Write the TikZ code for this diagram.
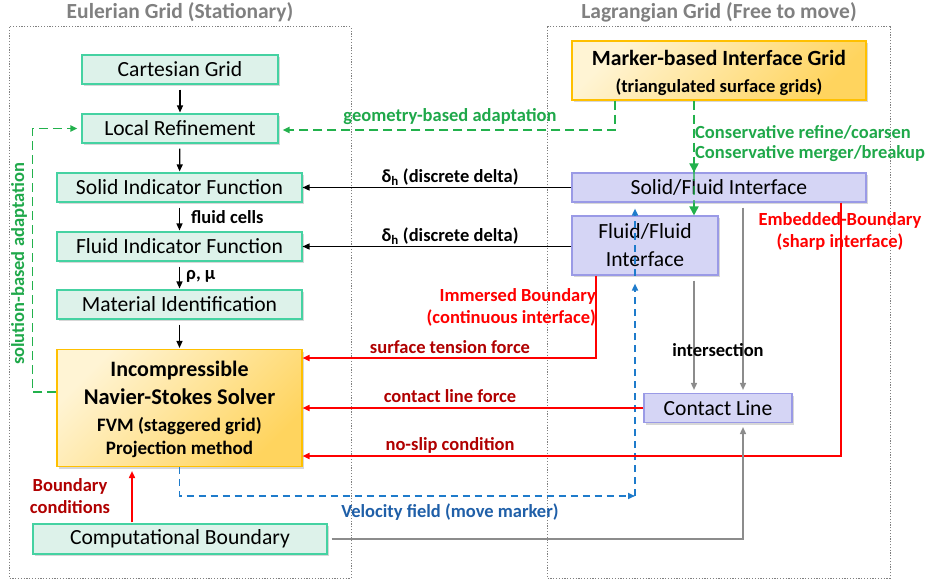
\documentclass[tikz,border=0pt]{standalone}
\usepackage{fontspec}
\setmainfont{Carlito}
\usetikzlibrary{arrows.meta,shadows,calc}
\definecolor{gfill}{HTML}{DDF2EA}
\definecolor{gborder}{HTML}{45D2A2}
\definecolor{ofillA}{HTML}{FFF4D4}
\definecolor{ofillB}{HTML}{FFD45E}
\definecolor{oborder}{HTML}{FFC000}
\definecolor{lfill}{HTML}{D5D5F5}
\definecolor{lborder}{HTML}{9A9AE6}
\definecolor{gline}{HTML}{22B14C}
\definecolor{gtext}{HTML}{1FA84A}
\definecolor{bline}{HTML}{1E7BCB}
\definecolor{btext}{HTML}{1F5FA8}
\definecolor{rline}{HTML}{FF0000}
\definecolor{rdark}{HTML}{B00000}
\definecolor{grayline}{HTML}{8C8C8C}
\definecolor{titlegray}{HTML}{808080}
\tikzset{
  shad/.style={drop shadow={shadow xshift=2pt,shadow yshift=-2pt,fill=black!35,opacity=.45}},
  gbox/.style={shad,draw=gborder,fill=gfill,line width=1.1pt,minimum height=29pt,inner sep=0pt,font=\fontsize{21.6}{24}\selectfont},
  lbox/.style={shad,draw=lborder,fill=lfill,line width=1.1pt,inner sep=0pt,font=\fontsize{21.6}{28}\selectfont,align=center},
  obox/.style={shad,draw=oborder,line width=1.1pt,inner sep=0pt,top color=ofillA,bottom color=ofillB,shading angle=45},
  btxt/.style={inner sep=0pt,font=\bfseries\fontsize{#1}{#1}\selectfont},
  tip/.style={-{Triangle[length=7pt,width=6pt]}},
  blk/.style={tip,black,line width=1.2pt},
  gdash/.style={gline,line width=1.8pt,dash pattern=on 9pt off 5pt},
  bdash/.style={bline,line width=1.6pt,dash pattern=on 7pt off 5pt},
  redarr/.style={tip,rline,line width=1.6pt},
  grayarr/.style={tip,grayline,line width=1.5pt},
  lbl/.style={font=\bfseries\fontsize{18.5}{22}\selectfont,inner sep=0pt},
  frame/.style={titlegray,line width=1pt,dash pattern=on 1.2pt off 1.6pt},
  title/.style={font=\bfseries\fontsize{21.5}{24}\selectfont,text=titlegray}
}
\begin{document}
\begin{tikzpicture}[x=1pt,y=-1pt]
\useasboundingbox (0,0) rectangle (927,583);
% frames
\draw[frame] (9,27) rectangle (351,578);
\draw[frame] (547,27) rectangle (890,578);
\node[title] (t1) at (180,12) {Eulerian Grid (Stationary)};
\node[title] (t2) at (719,12) {Lagrangian Grid (Free to move)};
% left column
\node[gbox,minimum width=196pt] (cart) at (180,69.5) {Cartesian Grid};
\node[gbox,minimum width=196pt] (loc) at (180,128.5) {Local Refinement};
\node[gbox,minimum width=245pt] (sif) at (179.5,187.5) {Solid Indicator Function};
\node[gbox,minimum width=245pt] (fif) at (179.5,246.5) {Fluid Indicator Function};
\node[gbox,minimum width=245pt] (mat) at (179.5,304.5) {Material Identification};
\node[obox,minimum width=245pt,minimum height=117pt] (ns) at (179.5,408) {};
\node[btxt=22] (ns1) at (ns.center |- 0,371) {Incompressible};
\node[btxt=22.5] (ns2) at (ns.center |- 0,397) {Navier-Stokes Solver};
\node[btxt=19] (ns3) at (ns.center |- 0,426) {FVM (staggered grid)};
\node[btxt=19] (ns4) at (ns.center |- 0,449) {Projection method};
\node[gbox,minimum width=294pt,minimum height=30pt] (cb) at (180,539) {Computational Boundary};
% right column
\node[obox,minimum width=294pt,minimum height=59pt] (mark) at (719,70.5) {};
\node[btxt=21.7] (m1) at (mark.center |- 0,58) {Marker-based Interface Grid};
\node[btxt=18.5] (m2) at (mark.center |- 0,87) {(triangulated surface grids)};
\node[lbox,minimum width=294pt,minimum height=29pt] (sf) at (719,187.5) {Solid/Fluid Interface};
\node[lbox,minimum width=146pt,minimum height=59pt] (ff) at (645,245.5) {Fluid/Fluid\\Interface};
\node[lbox,minimum width=148pt,minimum height=29pt] (cl) at (718,408) {Contact Line};
% left chain arrows
\draw[blk,shorten <=5pt,shorten >=1pt] (cart) -- (loc);
\draw[blk,shorten <=5pt,shorten >=1pt] (loc) -- (sif);
\draw[blk,shorten <=5pt,shorten >=1pt] (sif) -- (fif);
\draw[blk,shorten <=5pt,shorten >=1pt] (fif) -- (mat);
\draw[blk,shorten <=5pt,shorten >=1pt] (mat) -- (ns);
\node[lbl,anchor=west] (fc) at (191,217) {fluid cells};
\node[lbl,anchor=west] (rm) at (186,276) {ρ, μ};
% geometry-based adaptation
\draw[gdash,tip,shorten >=4pt] ([xshift=-104pt]mark.south) |- ([yshift=-1.5pt]loc.east);
\node[lbl,text=gtext] (geo) at (450,117) {geometry-based adaptation};
% solution-based adaptation
\draw[gdash,tip,shorten >=4pt] ([yshift=16pt]ns.west) -- ++(-24,0) |- (loc.west);
\node[lbl,text=gtext,rotate=90] (sol) at (19,264) {solution-based adaptation};
% conservative
\draw[gdash] ([xshift=-25pt]mark.south) -- ([xshift=-25pt]sf.north);
\draw[gline,line width=1.8pt,-{Triangle[length=9pt,width=9pt]}] ([xshift=-25pt,yshift=9pt]sf.north) -- ([xshift=-25pt]sf.north);
\draw[gdash,line width=1.2pt,opacity=.7] ([xshift=-25pt]sf.north) -- ([xshift=-25pt]sf.south);
\draw[gline,line width=1.8pt,-{Triangle[length=9pt,width=9pt]}] ([xshift=-25pt]sf.south) -- ([xshift=49pt]ff.north);
\node[lbl,text=gtext,anchor=west] (cr) at (695,132) {Conservative refine/coarsen};
\node[lbl,text=gtext,anchor=west] (cm) at (695,154) {Conservative merger/breakup};
% delta arrows
\draw[blk,line width=1.4pt] (sf.west) -- (sif.east);
\draw[blk,line width=1.4pt] (ff.west |- fif.east) -- (fif.east);
\node[lbl] (d1) at (450,177) {δ\textsubscript{h} (discrete delta)};
\node[lbl] (d2) at (450,236) {δ\textsubscript{h} (discrete delta)};
% velocity field
\coordinate (vc) at (635,496);
\draw[bdash,tip] (ns.south) |- (vc);
\draw[bdash,tip,shorten >=8pt] (vc) -- (ff.south -| vc);
\draw[bdash,tip,shorten >=6pt] (ff.south -| vc) -- (sf.south -| vc);
\node[lbl,text=btext] (vel) at (450,512) {Velocity field (move marker)};
% immersed boundary
\draw[redarr] ([xshift=-49pt]ff.south) |- ([yshift=50pt]ns.east);
\node[lbl,text=rline,align=right,anchor=east] (ib) at (596,307) {Immersed Boundary\\(continuous interface)};
\node[lbl,text=rdark] (stf) at (450,347) {surface tension force};
% contact line force
\draw[redarr] (cl.west) -- (ns.east);
\node[lbl,text=rdark] (clf) at (450,396) {contact line force};
% embedded boundary
\node[lbl,text=rline,align=center] (eb) at (840,231.5) {Embedded-Boundary\\(sharp interface)};
\draw[redarr] ([xshift=122pt]sf.south) |- ([yshift=-48pt]ns.east);
\node[lbl,text=rdark] (nsc) at (450,445) {no-slip condition};
% intersection
\draw[grayarr,shorten <=5pt,shorten >=3pt] ([xshift=49pt]ff.south) -- ([xshift=-24pt]cl.north);
\draw[grayarr,shorten <=5pt,shorten >=3pt] ([xshift=24pt]sf.south) -- ([xshift=25pt]cl.north);
\node[lbl] (inter) at (718,350) {intersection};
\draw[grayarr,shorten <=4pt,shorten >=4pt] (cb.east) -| ([xshift=25pt]cl.south);
% boundary conditions
\draw[redarr,shorten <=1pt,shorten >=4pt] ([xshift=-48pt]cb.north) -- ([xshift=-47.5pt]ns.south);
\node[lbl,text=rdark,align=center] (bc) at (70,496) {Boundary\\conditions};
\end{tikzpicture}
\end{document}
